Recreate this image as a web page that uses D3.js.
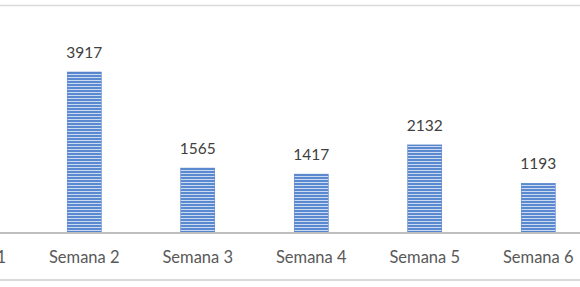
<!DOCTYPE html>
<html>
<head>
<meta charset="utf-8">
<script src="https://cdn.jsdelivr.net/npm/d3@7"></script>
<style>
  body { margin: 0; background: #fff; }
  text { font-family: Lato, "Open Sans", sans-serif; }
</style>
</head>
<body>
<script>
'use strict';

// chart values
const weeks = ["Semana 1", "Semana 2", "Semana 3", "Semana 4", "Semana 5", "Semana 6"];
const counts = [null, 3917, 1565, 1417, 2132, 1193]; // week 1 bar is cut off at the left
const yMaxValue = 4500;

(function() {
  const width = 580, height = 287;
  const svg = d3.select('body').append('svg')
    .attr('width', width)
    .attr('height', height);

  // horizontal stripe fill like the Excel pattern
  const defs = svg.append('defs');
  const pat = defs.append('pattern')
    .attr('id', 'stripes')
    .attr('patternUnits', 'userSpaceOnUse')
    .attr('width', 6)
    .attr('height', 3);
  pat.append('rect').attr('width', 6).attr('height', 3).attr('fill', '#5a89cf');
  pat.append('rect').attr('y', 2).attr('width', 6).attr('height', 1).attr('fill', '#c9daf2');

  // the chart is cropped, so the band range runs past both edges
  const x = d3.scaleBand()
    .domain(weeks)
    .range([-86, 595])
    .paddingInner(0.7)
    .paddingOuter(0.35);

  const y = d3.scaleLinear()
    .domain([0, yMaxValue])
    .range([232, 232 - yMaxValue * 160 / 3917]);

  // top and bottom border lines
  svg.append('line')
    .attr('x1', 0).attr('x2', width)
    .attr('y1', 5.5).attr('y2', 5.5)
    .attr('stroke', '#d9d9d9').attr('stroke-width', 1.5);
  svg.append('line')
    .attr('x1', 0).attr('x2', width)
    .attr('y1', 280).attr('y2', 280)
    .attr('stroke', '#d9d9d9').attr('stroke-width', 2);

  const rows = weeks.map((w, i) => ({ week: w, value: counts[i] }))
    .filter(d => d.value != null);

  svg.selectAll('.bar')
    .data(rows)
    .enter()
    .append('rect')
    .attr('class', 'bar')
    .attr('x', d => x(d.week))
    .attr('y', d => y(d.value))
    .attr('width', x.bandwidth())
    .attr('height', d => y(0) - y(d.value))
    .attr('fill', 'url(#stripes)')
    .attr('stroke', '#4a78c0')
    .attr('stroke-width', 0.5);

  // value labels
  svg.selectAll('.val')
    .data(rows)
    .enter()
    .append('text')
    .attr('class', 'val')
    .attr('x', d => x(d.week) + x.bandwidth() / 2)
    .attr('y', d => y(d.value) - 14)
    .attr('text-anchor', 'middle')
    .style('font-size', '15.5px')
    .attr('fill', '#404040')
    .text(d => d.value);

  // category axis
  const xAxis = d3.axisBottom(x).tickSize(0).tickPadding(19);
  const g = svg.append('g')
    .attr('transform', 'translate(0, 232)')
    .call(xAxis);
  g.select('.domain').remove();
  g.selectAll('text')
    .style('font-size', '16.5px')
    .style('font-family', 'Lato, "Open Sans", sans-serif')
    .attr('fill', '#595959');

  svg.append('line')
    .attr('x1', 0).attr('x2', width)
    .attr('y1', 233).attr('y2', 233)
    .attr('stroke', '#bfbfbf').attr('stroke-width', 2);
})();
</script>
</body>
</html>
